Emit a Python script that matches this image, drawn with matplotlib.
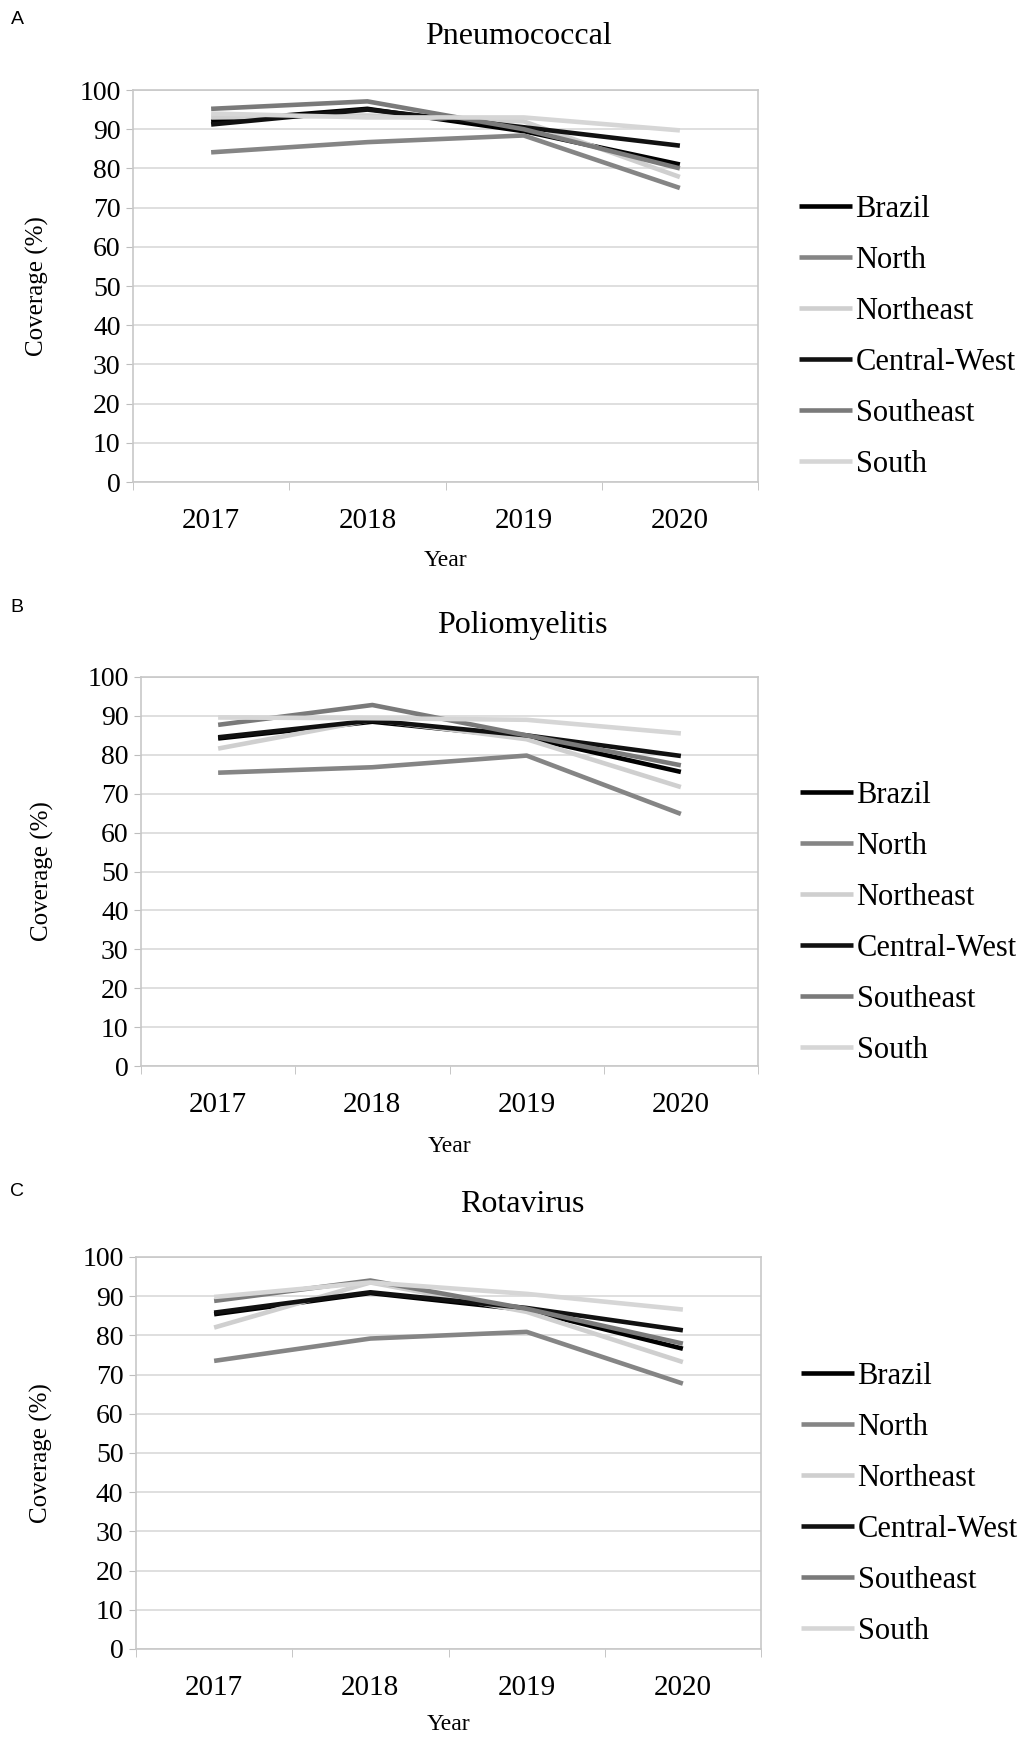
import matplotlib.pyplot as plt
import matplotlib.transforms as mtransforms
import numpy as np

plt.rcParams['font.family'] = ['Liberation Serif', 'DejaVu Serif']

years = ['2017', '2018', '2019', '2020']
regions = ['Brazil', 'North', 'Northeast', 'Central-West', 'Southeast', 'South']
colors = ['#000000', '#858585', '#cfcfcf', '#111111', '#7a7a7a', '#d6d6d6']

# coverage (%) per region, 2017-2020
pneumo_brazil = [92.0, 95.2, 89.5, 81.0]
pneumo_north = [84.1, 86.7, 88.4, 75.0]
pneumo_northeast = [93.0, 93.5, 92.0, 77.8]
pneumo_centralwest = [91.2, 95.0, 90.5, 85.8]
pneumo_southeast = [95.2, 97.1, 90.0, 80.0]
pneumo_south = [94.0, 93.0, 93.0, 89.7]

polio_brazil = [84.2, 88.5, 84.5, 75.6]
polio_north = [75.4, 76.8, 79.8, 64.8]
polio_northeast = [81.6, 89.0, 84.0, 71.7]
polio_centralwest = [84.5, 88.8, 85.0, 79.7]
polio_southeast = [87.7, 92.8, 85.0, 77.3]
polio_south = [89.6, 89.4, 89.0, 85.5]

rota_brazil = [85.4, 90.8, 86.5, 76.6]
rota_north = [73.5, 79.2, 80.9, 67.7]
rota_northeast = [82.0, 93.5, 86.0, 73.2]
rota_centralwest = [85.8, 91.0, 87.0, 81.3]
rota_southeast = [88.8, 94.0, 86.8, 77.9]
rota_south = [89.8, 93.5, 90.6, 86.6]

pneumo = [pneumo_brazil, pneumo_north, pneumo_northeast, pneumo_centralwest, pneumo_southeast, pneumo_south]
polio = [polio_brazil, polio_north, polio_northeast, polio_centralwest, polio_southeast, polio_south]
rota = [rota_brazil, rota_north, rota_northeast, rota_centralwest, rota_southeast, rota_south]

W, H = 1033, 1739
fig = plt.figure(figsize=(W / 100, H / 100), dpi=100)


def panel(data, title, letter, box, title_xy, letter_xy, leg_xy, ylab_x, xlab_y):
    x0, y0, x1, y1 = box
    ax = fig.add_axes([x0 / W, 1 - y1 / H, (x1 - x0) / W, (y1 - y0) / H])
    x = np.arange(len(years))
    for vals, name, c in zip(data, regions, colors):
        ax.plot(x, vals, '-', color=c, lw=3.3, label=name, solid_capstyle='butt')
    ax.set_xlim(-0.5, 3.5)
    ax.set_ylim(0, 100)
    ax.set_yticks(range(0, 101, 10))
    ax.set_xticks(x)
    ax.set_xticklabels(years)
    ax.set_xticks(np.arange(-0.5, 3.6, 1), minor=True)
    ax.tick_params(axis='x', which='major', length=0, labelsize=21, pad=19)
    ax.tick_params(axis='x', which='minor', length=6, color='#bdbdbd', direction='out')
    ax.tick_params(axis='y', length=5, color='#bdbdbd', labelsize=20, pad=4)
    ax.grid(axis='y', color='#d9d9d9', lw=1.2)
    ax.set_axisbelow(True)
    for s in ax.spines.values():
        s.set_color('#c8c8c8')
        s.set_linewidth(1.2)
    ax.set_ylabel('Coverage (%)', fontsize=18, va='center')
    ax.yaxis.set_label_coords(ylab_x / W, 0.5,
                              transform=mtransforms.blended_transform_factory(fig.transFigure, ax.transAxes))
    ax.set_xlabel('Year', fontsize=17, va='center')
    ax.xaxis.set_label_coords(0.5, 1 - xlab_y / H,
                              transform=mtransforms.blended_transform_factory(ax.transAxes, fig.transFigure))
    fig.text(title_xy[0] / W, 1 - title_xy[1] / H, title, fontsize=23, ha='center', va='center')
    fig.text(letter_xy[0] / W, 1 - letter_xy[1] / H, letter, fontsize=14, ha='center', va='center',
             family=['Liberation Sans', 'DejaVu Sans'])
    fig.legend(*ax.get_legend_handles_labels(), loc='center left',
               bbox_to_anchor=(leg_xy[0] / W, 1 - leg_xy[1] / H), frameon=False,
               fontsize=22, handlelength=1.75, handletextpad=0.1, labelspacing=0.72,
               borderpad=0, borderaxespad=0)
    return ax


panel(pneumo, 'Pneumococcal', 'A', (133, 90, 758, 482), (518, 37), (17, 20), (799, 337), 37, 561)
panel(polio, 'Poliomyelitis', 'B', (141, 677, 758, 1066), (522, 625), (17, 608), (800, 923), 42, 1146)
panel(rota, 'Rotavirus', 'C', (136, 1257, 761, 1649), (522, 1204), (17, 1191), (801, 1504), 41, 1725)

fig.savefig('out.png', dpi=100)
